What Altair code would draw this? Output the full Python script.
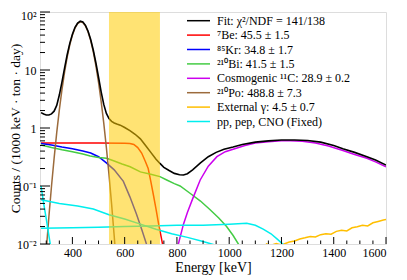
import altair as alt
import pandas as pd

# ---------------- data ----------------
FIT_E = [280, 290, 300, 310, 320, 330, 340, 350, 360, 370, 380, 390, 400, 410, 420, 430, 440, 450,
         460, 470, 480, 490, 500, 510, 520, 530, 540, 550, 560, 570, 583, 600, 620, 640, 660, 680,
         700, 720, 735, 750, 770, 790, 810, 825, 840, 860, 890, 920, 950, 980, 1015, 1050, 1100,
         1150, 1200, 1250, 1300, 1350, 1400, 1435, 1480, 1527, 1560, 1600]
FIT_V = [1.84, 1.74, 1.68, 1.68, 1.75, 1.95, 2.45, 3.7, 6.2, 10.8, 18.3, 28.8, 41.4, 54.4, 64.5,
         69.5, 67.2, 58.9, 46.6, 33.5, 21.9, 13.2, 7.5, 4.2, 2.55, 1.78, 1.45, 1.3, 1.22, 1.17,
         1.12, 1.02, 0.9, 0.78, 0.65, 0.5, 0.38, 0.29, 0.245, 0.21, 0.185, 0.165, 0.156, 0.155,
         0.163, 0.19, 0.25, 0.32, 0.38, 0.43, 0.47, 0.52, 0.57, 0.6, 0.62, 0.62, 0.61, 0.57, 0.5,
         0.44, 0.38, 0.32, 0.28, 0.23]

BE7_E = [280, 400, 500, 600, 620, 635, 650, 665, 680, 690, 700, 710, 720, 730, 740, 750]
BE7_V = [0.55, 0.55, 0.55, 0.545, 0.54, 0.52, 0.46, 0.37, 0.26, 0.2, 0.12, 0.07, 0.04, 0.022,
         0.013, 0.0075]

KR85_E = [280, 320, 360, 400, 440, 470, 500, 530, 560, 595, 620, 645, 665, 685]
KR85_V = [0.54, 0.51, 0.47, 0.44, 0.40, 0.37, 0.32, 0.25, 0.19, 0.12, 0.065, 0.033, 0.018, 0.0095]

BI210_E = [280, 320, 360, 400, 440, 468, 500, 531, 560, 590, 621, 660, 700, 735, 761, 790, 812,
           850, 890, 927, 960, 990, 1015, 1035, 1045]
BI210_V = [0.51, 0.46, 0.42, 0.39, 0.355, 0.33, 0.31, 0.3, 0.27, 0.24, 0.215, 0.175, 0.16, 0.145,
           0.127, 0.11, 0.1, 0.075, 0.055, 0.039, 0.028, 0.02, 0.014, 0.01, 0.0085]

C11_E = [800, 810, 825, 840, 860, 889, 920, 953, 985, 1015, 1060, 1100, 1150, 1200, 1234, 1280,
         1330, 1380, 1435, 1480, 1527, 1560, 1600]
C11_V = [0.008, 0.012, 0.022, 0.035, 0.06, 0.127, 0.22, 0.32, 0.39, 0.43, 0.5, 0.55, 0.58, 0.6,
         0.6, 0.59, 0.55, 0.49, 0.41, 0.35, 0.3, 0.26, 0.215]

PO210_E = [300, 310, 320, 330, 340, 350, 360, 370, 380, 390, 400, 410, 420, 432, 440, 450, 460,
           470, 480, 490, 500, 510, 520, 530, 540, 550, 560, 570]
PO210_V = [0.0078, 0.0295, 0.099, 0.30, 0.83, 2.05, 4.6, 9.2, 16.7, 27.2, 39.9, 52.9, 63.1, 68,
           65.8, 57.5, 45.2, 32.1, 20.5, 11.8, 6.13, 2.87, 1.21, 0.458, 0.157, 0.0486, 0.0136,
           0.0034]

EXT_E = [1140, 1160, 1180, 1200, 1215, 1230, 1250, 1270, 1290, 1310, 1330, 1350, 1370, 1390,
         1410, 1430, 1450, 1470, 1490, 1510, 1530, 1550, 1570, 1590, 1600]
EXT_V = [0.0101, 0.0095, 0.0102, 0.0096, 0.0102, 0.0108, 0.0113, 0.0122, 0.0128, 0.0135,
         0.0132, 0.0145, 0.015, 0.0148, 0.0165, 0.0172, 0.0168, 0.019, 0.0198, 0.021, 0.0205,
         0.0232, 0.0245, 0.026, 0.0265]

PP_E = [280, 290, 300, 310, 316]
PP_V = [0.1, 0.05, 0.027, 0.014, 0.0095]

PEP_E = [280, 350, 420, 480, 540, 600, 660, 720, 780, 840, 900, 950]
PEP_V = [0.058, 0.05, 0.045, 0.04, 0.032, 0.027, 0.022, 0.018, 0.015, 0.013, 0.011, 0.0095]

CNO_E = [280, 400, 500, 600, 700, 800, 900, 1000, 1067, 1100, 1130, 1160, 1185, 1210]
CNO_V = [0.0186, 0.019, 0.0195, 0.02, 0.0205, 0.021, 0.021, 0.022, 0.0227, 0.021, 0.018, 0.015,
         0.012, 0.0095]

BAND_E = [540, 735]

SERIES_NAMES = ["Be7", "Kr85", "Bi210", "C11", "Po210", "Ext", "pp", "pep", "CNO", "Fit"]
SERIES_COLORS = ["#ff0000", "#0000ff", "#44cc44", "#cc00ee", "#9c6b3c", "#ffbf00",
                 "#00eeee", "#00eeee", "#00eeee", "#000000"]

LEG_LABELS = ["Fit: χ²/NDF = 141/138", "⁷Be: 45.5 ± 1.5", "⁸⁵Kr: 34.8 ± 1.7",
              "²¹⁰Bi: 41.5 ± 1.5", "Cosmogenic ¹¹C: 28.9 ± 0.2", "²¹⁰Po: 488.8 ± 7.3",
              "External γ: 4.5 ± 0.7", "pp, pep, CNO (Fixed)"]
LEG_COLORS = ["#000000", "#ff0000", "#0000ff", "#44cc44", "#cc00ee", "#9c6b3c", "#ffbf00",
              "#00eeee"]

X_MAJOR = [400, 600, 800, 1000, 1200, 1400, 1600]
X_MINOR = [300, 350, 450, 500, 550, 650, 700, 750, 850, 900, 950, 1050, 1100, 1150, 1250,
           1300, 1350, 1450, 1500, 1550]
Y_MAJOR = [0.01, 0.1, 1, 10, 100]
Y_MINOR = [0.02, 0.03, 0.04, 0.05, 0.06, 0.07, 0.08, 0.09,
           0.2, 0.3, 0.4, 0.5, 0.6, 0.7, 0.8, 0.9,
           2, 3, 4, 5, 6, 7, 8, 9,
           20, 30, 40, 50, 60, 70, 80, 90]

# ---------------- build tables ----------------
arrays = {
    "Be7": (BE7_E, BE7_V), "Kr85": (KR85_E, KR85_V), "Bi210": (BI210_E, BI210_V),
    "C11": (C11_E, C11_V), "Po210": (PO210_E, PO210_V), "Ext": (EXT_E, EXT_V),
    "pp": (PP_E, PP_V), "pep": (PEP_E, PEP_V), "CNO": (CNO_E, CNO_V), "Fit": (FIT_E, FIT_V),
}
rows = []
for name in SERIES_NAMES:
    es, vs = arrays[name]
    for e, v in zip(es, vs):
        rows.append({"series": name, "E": e, "v": v})
df = pd.DataFrame(rows)

W, H = 346, 232
FONT = "Liberation Serif"
XDOM = [276, 1600]
YDOM = [0.01, 100]

xscale = alt.Scale(domain=XDOM, nice=False, zero=False)
yscale = alt.Scale(type="log", domain=YDOM, nice=False)
cscale = alt.Scale(domain=SERIES_NAMES, range=SERIES_COLORS)

X_AXIS = alt.Axis(values=X_MAJOR, format="d", ticks=False, domain=False, grid=False,
                  labelFont=FONT, labelFontSize=12, labelColor="black", labelPadding=3,
                  title="Energy [keV]", titleFont=FONT, titleFontSize=14,
                  titleFontWeight="normal", titleColor="black", titleY=27,
                  titleBaseline="alphabetic")
Y_AXIS = alt.Axis(values=Y_MAJOR, ticks=False, domain=False, grid=False, labelFont=FONT,
                  labelFontSize=12, labelColor="black", labelPadding=4,
                  labelOffset={"condition": {"test": "datum.value > 50", "value": 3},
                               "value": 0},
                  labelExpr="datum.value < 0.05 ? '10⁻²' : datum.value < 0.5 ? '10⁻¹' : "
                            "datum.value < 5 ? '1' : datum.value < 50 ? '10' : '10²'",
                  title="Counts / (1000 keV · ton · day)", titleFont=FONT, titleFontSize=13.5,
                  titleFontWeight="normal", titleColor="black", titleX=-21, titleY=H / 2,
                  titleAngle=-90, titleBaseline="alphabetic", titleAlign="center")


def X(field):
    return alt.X(field, scale=xscale, axis=X_AXIS, title="Energy [keV]")


def Y(field):
    return alt.Y(field, scale=yscale, axis=Y_AXIS, title="Counts / (1000 keV · ton · day)")


comp = alt.Chart(df[df.series != "Fit"]).mark_line(clip=True, strokeWidth=1.5).encode(
    x=X("E:Q"), y=Y("v:Q"),
    color=alt.Color("series:N", scale=cscale, legend=None),
    detail="series:N",
)
fit = alt.Chart(df[df.series == "Fit"]).mark_line(clip=True, strokeWidth=1.6).encode(
    x=X("E:Q"), y=Y("v:Q"),
    color=alt.Color("series:N", scale=cscale, legend=None),
)

band = alt.Chart(pd.DataFrame({"e1": [BAND_E[0]], "e2": [BAND_E[1]]})).mark_rect(
    color="#ffcc00", opacity=0.55).encode(
    x=X("e1:Q"), x2="e2:Q", y=alt.value(0), y2=alt.value(H))


def xticks(vals, length):
    return alt.Chart(pd.DataFrame({"t": vals})).mark_rule(color="black", strokeWidth=1).encode(
        x=X("t:Q"), y=alt.value(H), y2=alt.value(H - length))


def yticks(vals, length):
    return alt.Chart(pd.DataFrame({"t": vals})).mark_rule(color="black", strokeWidth=1).encode(
        y=Y("t:Q"), x=alt.value(0), x2=alt.value(length))


layers = [comp, fit, band, xticks(X_MAJOR, 7), xticks(X_MINOR, 3.5),
          yticks(Y_MAJOR, 10), yticks(Y_MINOR, 5)]

one = pd.DataFrame({"a": [0]})
LEG_Y0, LEG_DY = 8.7, 14.4
for i, (lab, col) in enumerate(zip(LEG_LABELS, LEG_COLORS)):
    yy = LEG_Y0 + i * LEG_DY
    layers.append(alt.Chart(one).mark_rule(color=col, strokeWidth=1.5).encode(
        x=alt.value(147), x2=alt.value(170), y=alt.value(yy)))
    layers.append(alt.Chart(one).mark_text(align="left", baseline="middle", font=FONT,
                                           fontSize=12, color="black").encode(
        x=alt.value(177), y=alt.value(yy), text=alt.value(lab)))

chart = alt.layer(*layers).properties(
    width=W, height=H, autosize=alt.AutoSizeParams(type="none"),
    padding={"left": 32, "top": 4, "right": 13, "bottom": 36},
).configure_view(stroke="black", strokeWidth=1).configure(background="white")

chart.save("out.html", embed_options={"renderer": "svg", "actions": False})
